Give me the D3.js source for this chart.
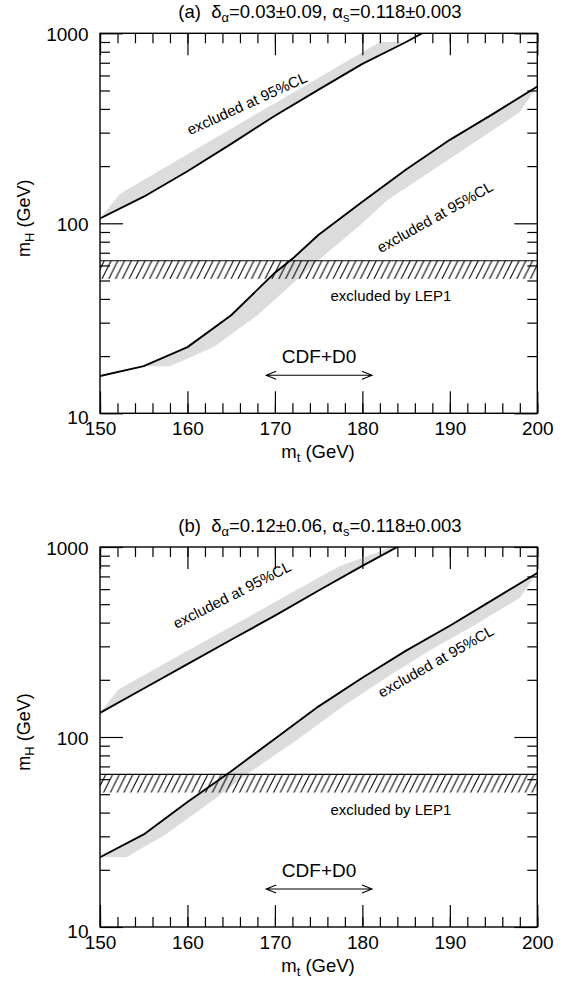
<!DOCTYPE html>
<html><head><meta charset="utf-8">
<script src="https://cdn.jsdelivr.net/npm/d3@7"></script>
<style>
body{margin:0;background:#fff}
svg{display:block}
text{font-family:"Liberation Sans",Arial,Helvetica,sans-serif;fill:#000}
</style>
</head><body>
<svg id="chart" width="564" height="985"></svg>
<script>
// ---------- data ----------
const xTickValues = [150,160,170,180,190,200];
const xMinorValues = d3.range(150,201,2);
const yTickValues = [10,100,1000];
const yMinorValues = [20,30,40,50,60,70,80,90,200,300,400,500,600,700,800,900];
const yTickLabels = ["10","100","1000"];
const lepBand = [51, 63.5];          // mH range excluded by LEP1
const cdfRange = [169, 181.1];       // CDF+D0 mt range

// panel (a): delta_alpha = 0.03 +- 0.09
const aUpperMt = [150,155,160,165,170,175,180,185,187.5];
const aUpperMH = [106,138,188,262,368,505,690,900,1040];
const aUpperEdgeMt = [150,152.3,160,170,180,182,184.6];
const aUpperEdgeMH = [106,143,231,429,796,900,900];
const aLowerMt = [150,155,160,165,170,172,175,180,185,190,195,200];
const aLowerMH = [15.7,17.7,22.3,32.8,55,65,87,130,192,275,378,525];
const aLowerEdgeMt = [155,158,163,168,172,174.8,180,182.8,188,193,198,200];
const aLowerEdgeMH = [17.7,17.7,22.3,32.8,48,63,100,132,190,270,385,525];

// panel (b): delta_alpha = 0.12 +- 0.06
const bUpperMt = [150,155,160,165,170,175,180,185];
const bUpperMH = [134,180,242,325,435,590,795,1060];
const bUpperEdgeMt = [150,152.1,160,170,177.3,183.4,184.1];
const bUpperEdgeMH = [134,178,284,513,790,1000,1000];
const bLowerMt = [150,155,160,165,170,175,180,185,190,195,200];
const bLowerMH = [23.3,30.7,45.5,66,98,145,205,285,385,530,730];
const bLowerEdgeMt = [150,153,157.5,162.5,167.3,172.7,177.8,182.7,187.7,192.7,198,200];
const bLowerEdgeMH = [23.3,23.3,30.7,45,66,98,145,205,285,385,540,730];

const panels = [
  {id:"a", top:33.3, label:"(a)", dA:"0.03±0.09",
   upper:[aUpperMt,aUpperMH], upperEdge:[aUpperEdgeMt,aUpperEdgeMH],
   lower:[aLowerMt,aLowerMH], lowerEdge:[aLowerEdgeMt,aLowerEdgeMH],
   upLab:{mt:166.8, mH:427, ang:-24.6}, loLab:{mt:188.3, mH:108, ang:-29.2}},
  {id:"b", top:547, label:"(b)", dA:"0.12±0.06",
   upper:[bUpperMt,bUpperMH], upperEdge:[bUpperEdgeMt,bUpperEdgeMH],
   lower:[bLowerMt,bLowerMH], lowerEdge:[bLowerEdgeMt,bLowerEdgeMH],
   upLab:{mt:165.1, mH:560, ang:-26.9}, loLab:{mt:188.4, mH:250, ang:-29.5}}
];

// ---------- drawing ----------
const svg = d3.select("#chart");
const L = 100, W = 437.3, H = 380;
const zip = (a,b) => a.map((v,i)=>[v,b[i]]);

// hatch pattern
const defs = svg.append("defs");
const pat = defs.append("pattern").attr("id","hatch").attr("patternUnits","userSpaceOnUse")
  .attr("width",6.8).attr("height",13.6);
pat.append("path").attr("d","M-3.4,13.6 L3.4,0 M3.4,13.6 L10.2,0 M-10.2,13.6 L-3.4,0")
  .attr("stroke","#000").attr("stroke-width",1.05).attr("fill","none");

panels.forEach(p => {
  const x = d3.scaleLinear().domain([150,200]).range([L, L+W]);
  const y = d3.scaleLog().domain([10,1000]).range([p.top+H, p.top]);
  const g = svg.append("g");

  defs.append("clipPath").attr("id","clip"+p.id).append("rect")
    .attr("x",L).attr("y",p.top).attr("width",W).attr("height",H);
  const plot = g.append("g").attr("clip-path",`url(#clip${p.id})`);

  const line = d3.line().x(d=>x(d[0])).y(d=>y(d[1]));

  // grey bands: edge polygon closed along the black curve
  function band(curve, edge){
    const e = zip(edge[0], edge[1]);
    const lo = e[0][0], hi = e[e.length-1][0];
    const c = zip(curve[0], curve[1]).filter(d => d[0] > lo && d[0] < hi).reverse();
    return line([...e, ...c]) + "Z";
  }
  plot.append("path").attr("d", band(p.upper, p.upperEdge)).attr("fill","#dcdcdc");
  plot.append("path").attr("d", band(p.lower, p.lowerEdge)).attr("fill","#dcdcdc");

  // LEP1 hatched band
  plot.append("rect").attr("x",L).attr("width",W)
    .attr("y",y(lepBand[1])).attr("height",y(lepBand[0])-y(lepBand[1]))
    .attr("fill","url(#hatch)");
  plot.append("line").attr("x1",L).attr("x2",L+W)
    .attr("y1",y(lepBand[1])).attr("y2",y(lepBand[1]))
    .attr("stroke","#000").attr("stroke-width",1.2);

  // black curves
  [p.upper, p.lower].forEach(cv => {
    plot.append("path").attr("d", line(zip(cv[0],cv[1])))
      .attr("fill","none").attr("stroke","#000").attr("stroke-width",1.9)
      .attr("stroke-linejoin","round");
  });

  // axes
  const styleAxis = sel => { sel.select(".domain").remove();
    sel.selectAll(".tick line").attr("stroke","#000").attr("stroke-width",1.2); };
  g.append("g").attr("transform",`translate(0,${p.top+H})`)
    .call(d3.axisBottom(x).tickValues(xMinorValues).tickSize(-10).tickFormat("")).call(styleAxis);
  g.append("g").attr("transform",`translate(0,${p.top+H})`)
    .call(d3.axisBottom(x).tickValues(xTickValues).tickSize(-22).tickPadding(8.5).tickFormat(d3.format("d")))
    .call(styleAxis)
    .call(s => s.selectAll("text").attr("font-size",19).attr("font-family",null));
  g.append("g").attr("transform",`translate(0,${p.top})`)
    .call(d3.axisTop(x).tickValues(xMinorValues).tickSize(-10).tickFormat("")).call(styleAxis);
  g.append("g").attr("transform",`translate(0,${p.top})`)
    .call(d3.axisTop(x).tickValues(xTickValues).tickSize(-22).tickFormat("")).call(styleAxis);

  g.append("g").attr("transform",`translate(${L},0)`)
    .call(d3.axisLeft(y).tickValues(yMinorValues).tickSize(-10).tickFormat("")).call(styleAxis);
  g.append("g").attr("transform",`translate(${L},0)`)
    .call(d3.axisLeft(y).tickValues(yTickValues).tickSize(-23).tickPadding(11.5)
      .tickFormat((d,i)=>yTickLabels[i]))
    .call(styleAxis)
    .call(s => s.selectAll("text").attr("font-size",19).attr("font-family",null)
      .attr("dy", d => d===10 ? "0.55em" : "0.4em"));
  g.append("g").attr("transform",`translate(${L+W},0)`)
    .call(d3.axisRight(y).tickValues(yMinorValues).tickSize(-10).tickFormat("")).call(styleAxis);
  g.append("g").attr("transform",`translate(${L+W},0)`)
    .call(d3.axisRight(y).tickValues(yTickValues).tickSize(-23).tickFormat("")).call(styleAxis);

  // frame
  g.append("rect").attr("x",L).attr("y",p.top).attr("width",W).attr("height",H)
    .attr("fill","none").attr("stroke","#000").attr("stroke-width",1.4);

  // title
  const t = g.append("text").attr("x",320).attr("y",p.top-15.5).attr("text-anchor","middle")
    .attr("font-size",18.5).style("white-space","pre");
  t.append("tspan").text(p.label+"  δ");
  t.append("tspan").attr("dy",4).attr("font-size",13).text("α");
  t.append("tspan").attr("dy",-4).text("="+p.dA+", α");
  t.append("tspan").attr("dy",4).attr("font-size",13).text("s");
  t.append("tspan").attr("dy",-4).text("=0.118±0.003");

  // axis titles
  const xl = g.append("text").attr("x",318).attr("y",p.top+H+45).attr("text-anchor","middle").attr("font-size",18.5);
  xl.append("tspan").text("m");
  xl.append("tspan").attr("dy",4).attr("font-size",13).text("t");
  xl.append("tspan").attr("dy",-4).text(" (GeV)");
  const yl = g.append("text").attr("transform",`translate(30,${p.top+185}) rotate(-90)`)
    .attr("text-anchor","middle").attr("font-size",18);
  yl.append("tspan").text("m");
  yl.append("tspan").attr("dy",4).attr("font-size",13).text("H");
  yl.append("tspan").attr("dy",-4).text(" (GeV)");

  // band labels
  [p.upLab, p.loLab].forEach(lb => {
    g.append("text").attr("transform",`translate(${x(lb.mt)},${y(lb.mH)}) rotate(${lb.ang})`)
      .attr("text-anchor","middle").attr("dy","0.35em").attr("font-size",15)
      .text("excluded at 95%CL");
  });
  g.append("text").attr("x",391).attr("y",p.top+H-112.5).attr("text-anchor","middle")
    .attr("font-size",15).text("excluded by LEP1");

  // CDF+D0 arrow
  g.append("text").attr("x",(x(cdfRange[0])+x(cdfRange[1]))/2).attr("y",p.top+330)
    .attr("text-anchor","middle").attr("font-size",19).text("CDF+D0");
  const ay = p.top+342;
  const x0 = x(cdfRange[0]), x1 = x(cdfRange[1]);
  g.append("path")
    .attr("d",`M${x0},${ay}H${x1}M${x0+10},${ay-4}L${x0},${ay}L${x0+10},${ay+4}M${x1-10},${ay-4}L${x1},${ay}L${x1-10},${ay+4}`)
    .attr("fill","none").attr("stroke","#000").attr("stroke-width",1.1);
});
</script>
</body></html>
